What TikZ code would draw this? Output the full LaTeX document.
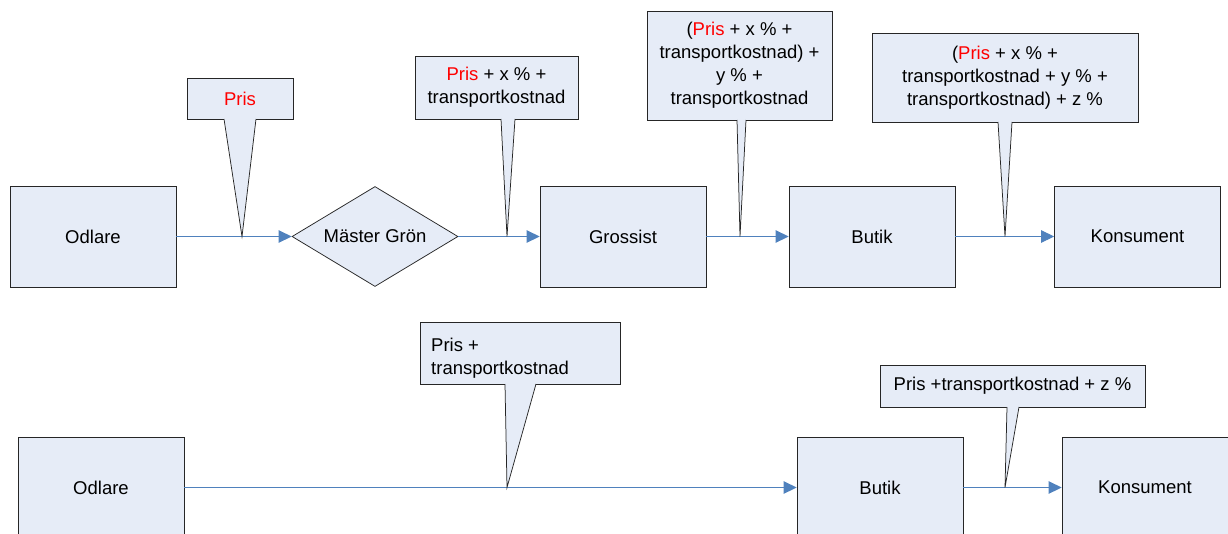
\documentclass[tikz,border=0pt]{standalone}
\usepackage{fontspec}
\setmainfont{Liberation Sans}
\usetikzlibrary{arrows.meta,shapes.geometric}
\definecolor{boxfill}{RGB}{230,236,247}
\definecolor{flow}{RGB}{79,129,189}
\definecolor{prisred}{RGB}{255,0,0}
\newcommand{\pris}{\textcolor{prisred}{Pris}}
\begin{document}
\begin{tikzpicture}[x=1pt,y=-1pt,
        every node/.style={font=\fontsize{18.5}{23}\selectfont,inner sep=0pt},
        box/.style={draw=black!85,line width=0.75pt,fill=boxfill,minimum width=166pt,minimum height=101pt},
        callout/.style={draw=black!85,line width=0.75pt,fill=boxfill,align=center,outer sep=0pt},
        tipline/.style={draw=black!85,line width=0.75pt},
        flowarrow/.style={flow,line width=1pt,-{Triangle[length=13pt,width=12.5pt]}}]
    \useasboundingbox (0,0) rectangle (1228,533);
    \node[box] (odl1) at (93,236.5) {Odlare};
    \node[box,shape=diamond,aspect=1.66,minimum width=166pt,minimum height=100pt] (mg) at (375,236.5) {Mäster Grön};
    \node[box] (gro) at (623,236.5) {Grossist};
    \node[box] (but1) at (872,236.5) {Butik};
    \node[box] (kon1) at (1137.5,236.5) {Konsument};
    \draw[flowarrow] (odl1.east) -- (mg.west);
    \draw[flowarrow] (mg.east) -- (gro.west);
    \draw[flowarrow] (gro.east) -- (but1.west);
    \draw[flowarrow] (but1.east) -- (kon1.west);
    \node[box] (odl2) at (101,487.5) {Odlare};
    \node[box] (but2) at (880,487.5) {Butik};
    \node[box] (kon2) at (1145,487.5) {Konsument};
    \draw[flowarrow] (odl2.east) -- (but2.west);
    \draw[flowarrow] (but2.east) -- (kon2.west);
    \coordinate (t1) at (242,236.5);
    \coordinate (t2) at (507,236.5);
    \coordinate (t3) at (740,236.5);
    \coordinate (t4) at (1005,236.5);
    \coordinate (t5) at (507,487.5);
    \coordinate (t6) at (1005,487.5);
    \node[callout,minimum width=106pt,minimum height=41pt] (c1) at (240,98.5) {\pris};
    \node[callout,minimum width=163pt,minimum height=63pt] (c2) at (496.5,87.5) {\pris{} + x \% +\\transportkostnad};
    \node[callout,minimum width=185pt,minimum height=109pt] (c3) at (739.5,65.5) {(\pris{} + x \% +\\transportkostnad) +\\y \% +\\transportkostnad};
    \node[callout,minimum width=266pt,minimum height=89pt] (c4) at (1005,77.5) {(\pris{} + x \% +\\transportkostnad + y \% +\\transportkostnad) + z \%};
    \node[callout,minimum width=200pt,minimum height=62pt] (c5) at (520,353) {};
    \node[align=left,anchor=north west] (c5t) at ([xshift=11pt,yshift=-16pt]c5.north west) {Pris +\\transportkostnad};
    \node[callout,minimum width=265pt,minimum height=42pt] (c6) at (1012.5,386) {Pris +transportkostnad + z \%};
    \fill[boxfill] ([xshift=37pt,yshift=0.8pt]c1.south west) -- (t1) -- ([xshift=69pt,yshift=0.8pt]c1.south west) -- cycle;
    \draw[tipline] ([xshift=37pt]c1.south west) -- (t1) -- ([xshift=69pt]c1.south west);
    \fill[boxfill] ([xshift=86pt,yshift=0.8pt]c2.south west) -- (t2) -- ([xshift=100pt,yshift=0.8pt]c2.south west) -- cycle;
    \draw[tipline] ([xshift=86pt]c2.south west) -- (t2) -- ([xshift=100pt]c2.south west);
    \fill[boxfill] ([xshift=90pt,yshift=0.8pt]c3.south west) -- (t3) -- ([xshift=99pt,yshift=0.8pt]c3.south west) -- cycle;
    \draw[tipline] ([xshift=90pt]c3.south west) -- (t3) -- ([xshift=99pt]c3.south west);
    \fill[boxfill] ([xshift=126pt,yshift=0.8pt]c4.south west) -- (t4) -- ([xshift=140pt,yshift=0.8pt]c4.south west) -- cycle;
    \draw[tipline] ([xshift=126pt]c4.south west) -- (t4) -- ([xshift=140pt]c4.south west);
    \fill[boxfill] ([xshift=85pt,yshift=0.8pt]c5.south west) -- (t5) -- ([xshift=116pt,yshift=0.8pt]c5.south west) -- cycle;
    \draw[tipline] ([xshift=85pt]c5.south west) -- (t5) -- ([xshift=116pt]c5.south west);
    \fill[boxfill] ([xshift=127pt,yshift=0.8pt]c6.south west) -- (t6) -- ([xshift=139pt,yshift=0.8pt]c6.south west) -- cycle;
    \draw[tipline] ([xshift=127pt]c6.south west) -- (t6) -- ([xshift=139pt]c6.south west);
\end{tikzpicture}
\end{document}
